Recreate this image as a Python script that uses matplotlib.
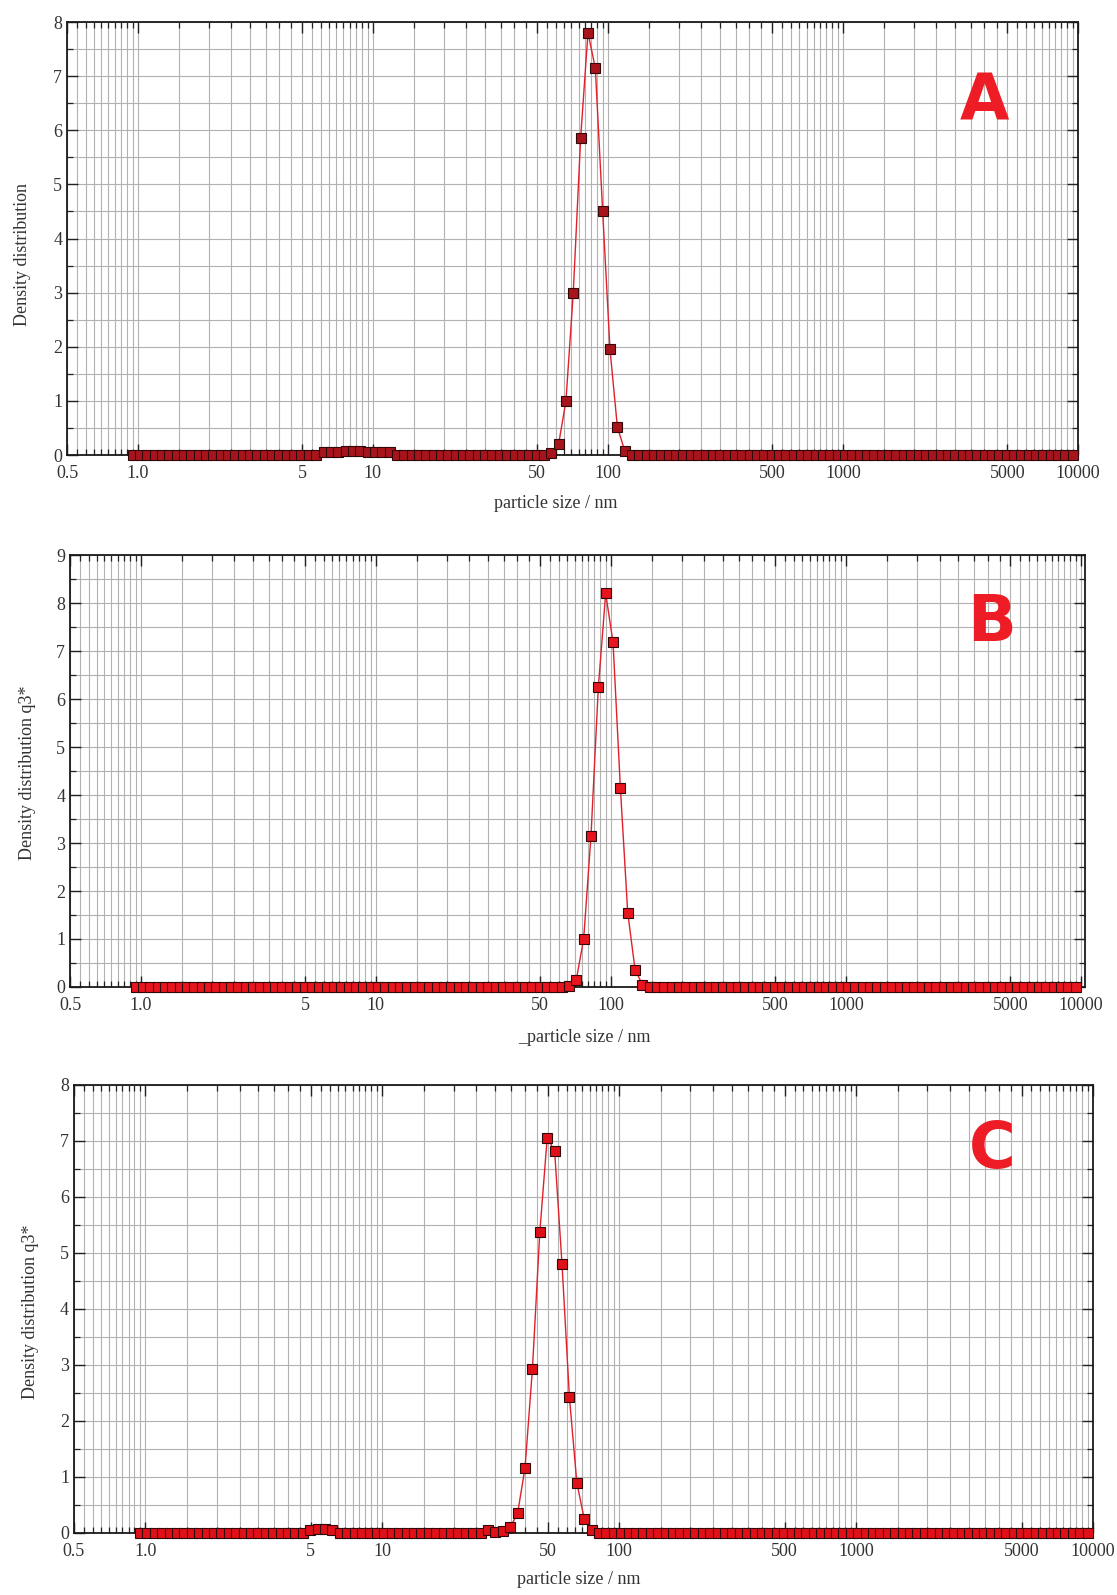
import numpy as np
import matplotlib
matplotlib.use("Agg")
import matplotlib.pyplot as plt
from matplotlib.ticker import FixedLocator, NullFormatter

plt.rcParams['font.family'] = ['Liberation Serif', 'DejaVu Serif']

# size classes of the analyser (geometric, 32 per decade)
sizes = 0.95 * 10 ** (np.arange(129) / 32)

# panel A
a_peak_start = 57
a_peak = [0.04, 0.2, 1.0, 3.0, 5.85, 7.8, 7.15, 4.5, 1.95, 0.52, 0.08]
a_bump_start = 26
a_bump = [0.05, 0.06, 0.06, 0.07, 0.07, 0.07, 0.06, 0.06, 0.06, 0.05]
# panel B
b_peak_start = 59
b_peak = [0.02, 0.15, 1.0, 3.15, 6.25, 8.2, 7.18, 4.15, 1.55, 0.36, 0.05]
# panel C
c_peak_start = 47
c_peak = [0.06, 0.02, 0.03, 0.1, 0.35, 1.16, 2.92, 5.37, 7.06, 6.82, 4.8, 2.42, 0.9, 0.25, 0.05]
c_bump_start = 23
c_bump = [0.06, 0.07, 0.07, 0.06]

x_major = [0.5, 1, 5, 10, 50, 100, 500, 1000, 5000, 10000]
x_major_labels = ['0.5', '1.0', '5', '10', '50', '100', '500', '1000', '5000', '10000']
ylabels = ['Density distribution', 'Density distribution q3*', 'Density distribution q3*']
xlabels = ['particle size / nm', '_particle size / nm', 'particle size / nm']
letters = ['A', 'B', 'C']
ymax = [8, 9, 8]


def build(parts):
    y = np.zeros(len(sizes))
    for start, vals in parts:
        y[start:start + len(vals)] = vals
    return y


series = [
    build([(a_peak_start, a_peak), (a_bump_start, a_bump)]),
    build([(b_peak_start, b_peak)]),
    build([(c_peak_start, c_peak), (c_bump_start, c_bump)]),
]

# axes boxes in figure fractions (left, bottom, width, height)
boxes = [
    [0.0600, 0.7147, 0.9051, 0.2715],
    [0.0627, 0.3812, 0.9087, 0.2708],
    [0.0662, 0.0389, 0.9123, 0.2809],
]
xlims = [(0.5, 10000), (0.5, 10400), (0.5, 10000)]
face = ['#a8141c', '#e8141e', '#e01018']
letter_pos = [(0.907, 0.815), (0.908, 0.843), (0.901, 0.855)]
ylab_pos = [(-0.0445, 0.464), (-0.042, 0.495), (-0.0427, 0.493)]
xlab_pos = [(0.483, -0.111), (0.507, -0.118), (0.495, -0.105)]

# minor grid: 1, 1.5, 2, ... 9.5 in each decade
minor = []
for d in [0.1, 1, 10, 100, 1000]:
    for k in np.arange(1, 10, 0.5):
        v = k * d
        if 0.5 <= v <= 10000 and v not in x_major:
            minor.append(v)

fig = plt.figure(figsize=(11.17, 15.95), dpi=100)

for i in range(3):
    ax = fig.add_axes(boxes[i])
    ax.set_xscale('log')
    ax.set_xlim(*xlims[i])
    ax.set_ylim(0, ymax[i])

    ax.xaxis.set_major_locator(FixedLocator(x_major))
    ax.xaxis.set_minor_locator(FixedLocator(minor))
    ax.set_xticklabels(x_major_labels)
    ax.xaxis.set_minor_formatter(NullFormatter())
    ax.yaxis.set_major_locator(FixedLocator(np.arange(0, ymax[i] + 1, 1)))
    ax.yaxis.set_minor_locator(FixedLocator(np.arange(0.5, ymax[i], 1)))

    ax.grid(True, which='both', color='#b2b2b2', lw=0.8, zorder=0)
    ax.set_axisbelow(True)
    ax.tick_params(which='both', direction='in', top=True, right=True,
                   labelsize=13, labelcolor='#333333', color='#222222')
    ax.tick_params(which='major', length=8, width=1.0)
    ax.tick_params(which='minor', length=4, width=0.9)
    ax.tick_params(axis='x', pad=7)
    for s in ax.spines.values():
        s.set_linewidth(1.3)
        s.set_color('#1a1a1a')

    ax.plot(sizes, series[i], '-', color='#e0202a', lw=1.0, zorder=3, clip_on=False)
    ax.plot(sizes, series[i], 's', ms=6.5, mfc=face[i], mec='#300808', mew=0.8,
            zorder=4, clip_on=False)

    ax.text(ylab_pos[i][0], ylab_pos[i][1], ylabels[i], transform=ax.transAxes,
            rotation=90, ha='center', va='center', fontsize=13, color='#333333')
    ax.text(xlab_pos[i][0], xlab_pos[i][1], xlabels[i], transform=ax.transAxes,
            ha='center', va='center', fontsize=13, color='#333333')
    ax.text(letter_pos[i][0], letter_pos[i][1], letters[i], transform=ax.transAxes,
            ha='center', va='center', fontsize=46, fontweight='heavy',
            family='DejaVu Sans', color='#ee1c25')

fig.savefig('out.png', dpi=100)
